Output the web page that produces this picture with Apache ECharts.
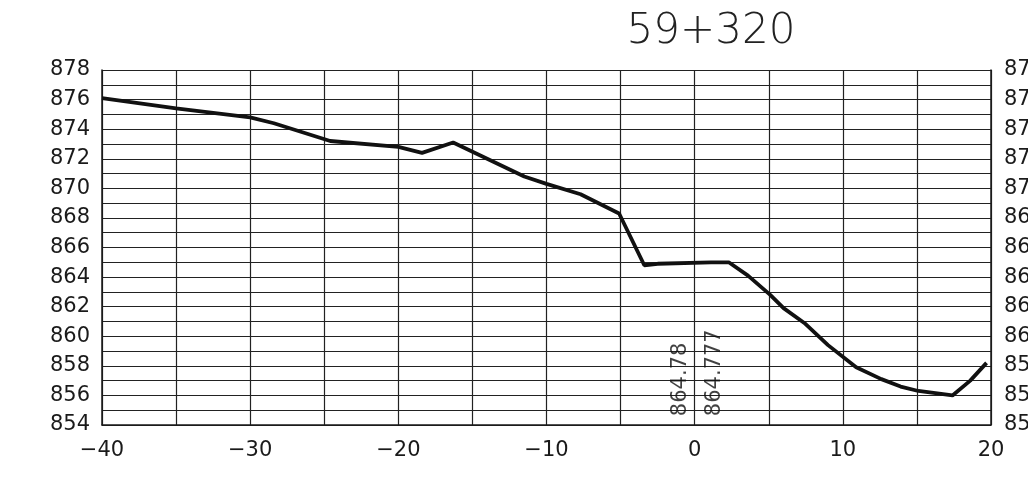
<!DOCTYPE html>
<html>
<head>
<meta charset="utf-8">
<script src="https://cdn.jsdelivr.net/npm/echarts@6/dist/echarts.min.js"></script>
<style>
  html, body { margin: 0; padding: 0; background: #fff; }
  #main { width: 1028px; height: 499px; }
</style>
</head>
<body>
<div id="main"></div>
<script>
// cross section 59+320: offset (m) vs elevation (m)
const title = '59+320'
const offsets = [-40, -35, -30, -28.4, -24.6, -20, -18.4, -16.3, -11.5, -10, -7.7, -5.1, -3.4, -2.5, 1.1, 2.3, 3.6, 5.1, 6.0, 7.4, 9.0, 10.9, 12.6, 13.9, 15.1, 17.4, 18.6, 19.7]
const elevations = [876.1, 875.4, 874.8, 874.4, 873.2, 872.8, 872.4, 873.1, 870.8, 870.3, 869.6, 868.3, 864.8, 864.9, 865.0, 865.0, 864.1, 862.8, 861.9, 860.9, 859.4, 857.9, 857.1, 856.6, 856.3, 856.0, 857.0, 858.2]
// vertical notes near the centre line
const noteX = [-0.95, 1.35]
const noteY = [854.6, 854.6]
const noteText = ['864.78', '864.777']

const font = 'DejaVu Sans'
const ink = '#1a1a1a'

const chart = echarts.init(document.getElementById('main'))

const yLabel = {
  fontFamily: font,
  fontSize: 21,
  color: ink,
  // labels every 2 m, grid every 1 m
  formatter(v) {
    return v % 2 === 0 ? String(v) : ''
  },
}

chart.setOption({
  animation: false,
  backgroundColor: '#fff',
  title: {
    text: title,
    left: 706,
    top: 6,
    textAlign: 'center',
    textStyle: {
      fontFamily: font,
      fontSize: 42,
      fontWeight: 200,
      color: '#222',
    },
  },
  grid: {
    left: 102,
    right: 37,
    top: 70,
    bottom: 74,
    outerBoundsMode: 'none',
  },
  xAxis: {
    type: 'value',
    min: -40,
    max: 20,
    interval: 5,
    axisLine: { show: true, onZero: false, lineStyle: { color: ink, width: 1.5 } },
    axisTick: { show: false },
    splitLine: { lineStyle: { color: '#222', width: 1.2 } },
    axisLabel: {
      fontFamily: font,
      fontSize: 21,
      color: ink,
      margin: 15,
      formatter(v) {
        if (v % 10 !== 0) return ''
        return v < 0 ? '\u2212' + Math.abs(v) : String(v)
      },
    },
  },
  yAxis: [
    {
      type: 'value',
      min: 854,
      max: 878,
      interval: 1,
      axisLine: { show: true, onZero: false, lineStyle: { color: ink, width: 1.5 } },
      axisTick: { show: false },
      splitLine: { lineStyle: { color: '#222', width: 1.2 } },
      axisLabel: { ...yLabel, margin: 12 },
    },
    {
      type: 'value',
      position: 'right',
      min: 854,
      max: 878,
      interval: 1,
      axisLine: { show: true, onZero: false, lineStyle: { color: ink, width: 1.5 } },
      axisTick: { show: false },
      splitLine: { show: false },
      axisLabel: { ...yLabel, margin: 13 },
    },
  ],
  series: [
    {
      type: 'line',
      data: offsets.map((x, i) => [x, elevations[i]]),
      symbol: 'none',
      lineStyle: { color: '#111', width: 3.8 },
    },
    {
      type: 'scatter',
      data: noteText.map((t, i) => [noteX[i], noteY[i], t]),
      symbolSize: 2,
      itemStyle: { color: 'rgba(0,0,0,0)' },
      silent: true,
      label: {
        show: true,
        rotate: 90,
        position: [1, 1],
        align: 'left',
        verticalAlign: 'middle',
        fontFamily: font,
        fontSize: 21,
        color: '#111',
        formatter: (p) => p.data[2],
      },
    },
  ],
})
</script>
</body>
</html>
